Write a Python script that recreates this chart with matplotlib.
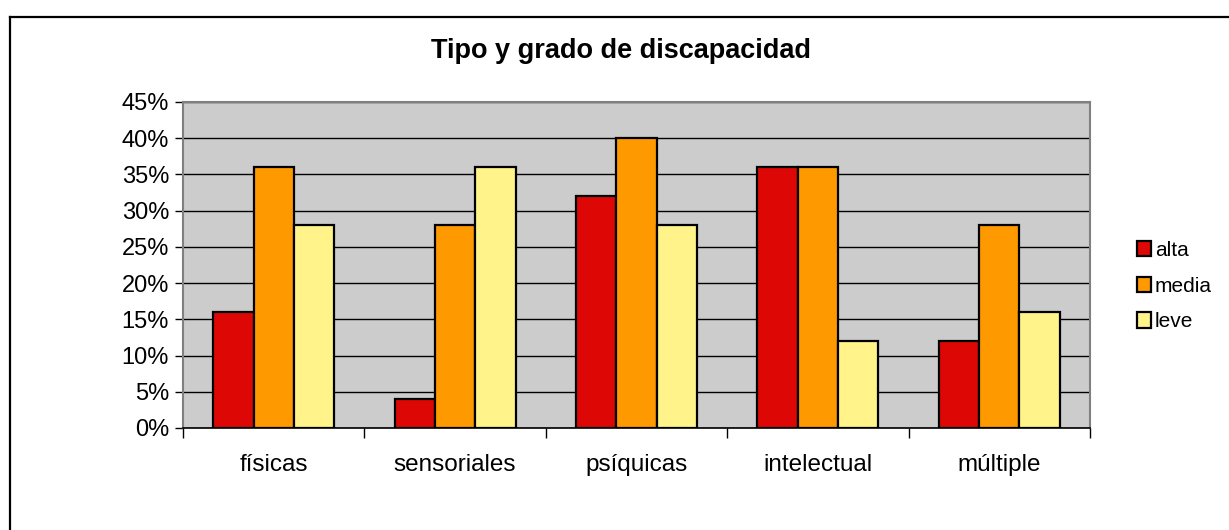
import matplotlib.pyplot as plt
import numpy as np
from matplotlib.patches import Patch
from matplotlib.lines import Line2D
from matplotlib.ticker import FuncFormatter

plt.rcParams['font.family'] = ['Liberation Sans', 'DejaVu Sans']

categorias = ['físicas', 'sensoriales', 'psíquicas', 'intelectual', 'múltiple']
alta = [16, 4, 32, 36, 12]
media = [36, 28, 40, 36, 28]
leve = [28, 36, 28, 12, 16]
series = ['alta', 'media', 'leve']
colores = ['#DD0806', '#FF9900', '#FFF38A']

W, H = 1229, 530
fig = plt.figure(figsize=(W / 100, H / 100), dpi=100)
ax = fig.add_axes([183 / W, 1 - 428 / H, (1090 - 183) / W, (428 - 102) / H])
ax.set_facecolor('#CCCCCC')

x = np.arange(len(categorias))
bw = 1 / 4.5
for k, (vals, col) in enumerate(zip([alta, media, leve], colores)):
    ax.bar(x + (k - 1) * bw, vals, bw, color=col, edgecolor='black', linewidth=1.6, zorder=3)

ax.set_xlim(-0.5, len(categorias) - 0.5)
ax.set_ylim(0, 45)
ax.set_yticks(range(0, 46, 5))
ax.yaxis.set_major_formatter(FuncFormatter(lambda v, p: '%d%%' % v))
ax.yaxis.grid(True, color='black', linewidth=1, zorder=1)
ax.set_axisbelow(True)

ax.set_xticks(np.arange(-0.5, len(categorias), 1))
ax.set_xticklabels([])
ax.set_xticks(x, minor=True)
ax.set_xticklabels(categorias, minor=True)
ax.tick_params(axis='x', which='major', length=7, width=1, color='black')
ax.tick_params(axis='x', which='minor', length=0, pad=19, labelsize=17.5)
ax.tick_params(axis='y', length=6, width=1, labelsize=17, pad=4)

for s in ['left', 'top', 'right']:
    ax.spines[s].set_color('#808080')
    ax.spines[s].set_linewidth(1.5)
ax.spines['bottom'].set_color('black')
ax.spines['bottom'].set_linewidth(1.2)

fig.text(621 / W, 1 - 51 / H, 'Tipo y grado de discapacidad', ha='center', va='center',
         fontsize=19.5, fontweight='bold')

handles = [Patch(facecolor=c, edgecolor='black', linewidth=1.6) for c in colores]
fig.legend(handles, series, loc='center left', bbox_to_anchor=(1137 / W, 1 - 286 / H),
           frameon=False, fontsize=15, handlelength=0.65, handleheight=0.75,
           handletextpad=0.2, labelspacing=0.8, borderaxespad=0, borderpad=0)

# marco exterior del gráfico
fig.add_artist(Line2D([10 / W, 10 / W], [1 - 17 / H, -0.1], color='black', linewidth=1.6,
                      transform=fig.transFigure))
fig.add_artist(Line2D([10 / W, 1.1], [1 - 17 / H, 1 - 17 / H], color='black', linewidth=1.6,
                      transform=fig.transFigure))

fig.savefig('out.png', dpi=100)
